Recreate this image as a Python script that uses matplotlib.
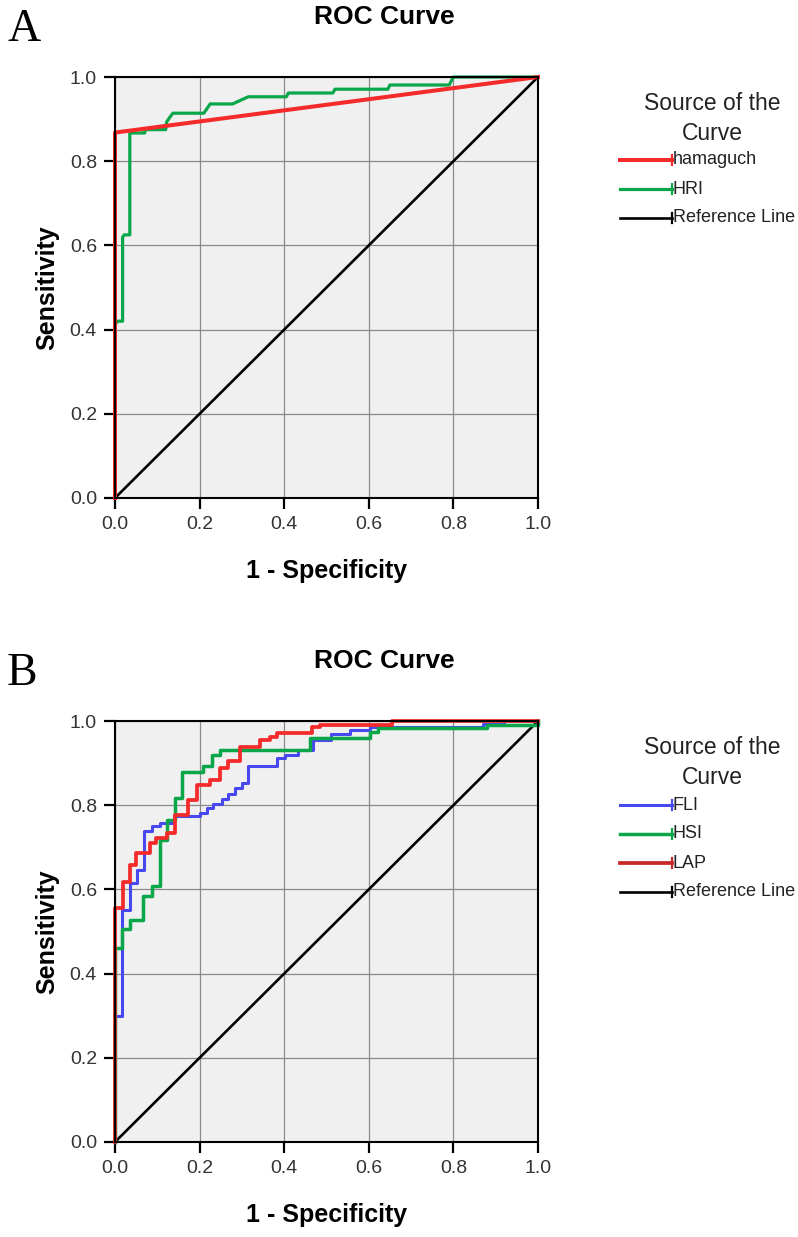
import matplotlib
matplotlib.use('Agg')
import matplotlib.pyplot as plt
from matplotlib.lines import Line2D

plt.rcParams['font.family'] = ['Liberation Sans', 'DejaVu Sans']

W, H = 798, 1237

ticks = [0.0, 0.2, 0.4, 0.6, 0.8, 1.0]
tick_labels = ['0.0', '0.2', '0.4', '0.6', '0.8', '1.0']
ref_x = [0, 1]
ref_y = [0, 1]

# panel A
hama_x = [0, 0, 1]
hama_y = [0, 0.868, 1]
hri_x = [0, 0, 0.005, 0.018, 0.018, 0.022, 0.035, 0.035, 0.07, 0.072, 0.12, 0.122, 0.13,
         0.137, 0.21, 0.225, 0.278, 0.315, 0.405, 0.41, 0.515, 0.52, 0.645, 0.65, 0.79, 0.80, 1.0]
hri_y = [0, 0.41, 0.42, 0.42, 0.62, 0.625, 0.625, 0.867, 0.867, 0.875, 0.875, 0.893, 0.905,
         0.914, 0.914, 0.936, 0.936, 0.953, 0.953, 0.962, 0.962, 0.971, 0.971, 0.981, 0.981, 1.0, 1.0]

# panel B (ROC step points, steps-post)
fli_x = [0, 0, 0.017, 0.035, 0.052, 0.068, 0.087, 0.106, 0.14, 0.201, 0.217, 0.232, 0.252, 0.268,
         0.284, 0.30, 0.315, 0.382, 0.402, 0.433, 0.469, 0.51, 0.556, 0.603, 0.87, 0.92, 1.0]
fli_y = [0, 0.30, 0.552, 0.616, 0.645, 0.738, 0.75, 0.758, 0.775, 0.782, 0.794, 0.803, 0.815, 0.827,
         0.841, 0.853, 0.892, 0.912, 0.919, 0.931, 0.955, 0.968, 0.979, 0.986, 0.993, 1.0, 1.0]
hsi_x = [0, 0, 0.016, 0.035, 0.066, 0.087, 0.106, 0.124, 0.142, 0.158, 0.209, 0.229, 0.248,
         0.461, 0.603, 0.622, 0.879, 0.934, 1.0]
hsi_y = [0, 0.46, 0.505, 0.528, 0.584, 0.608, 0.718, 0.765, 0.818, 0.88, 0.892, 0.92, 0.931,
         0.96, 0.975, 0.983, 0.99, 0.99, 1.0]
lap_x = [0, 0, 0.018, 0.035, 0.05, 0.083, 0.098, 0.124, 0.142, 0.173, 0.193, 0.225, 0.248,
         0.267, 0.295, 0.343, 0.366, 0.382, 0.465, 0.485, 0.654, 1.0]
lap_y = [0, 0.555, 0.617, 0.657, 0.687, 0.711, 0.723, 0.735, 0.777, 0.813, 0.848, 0.86, 0.889,
         0.904, 0.939, 0.955, 0.963, 0.972, 0.986, 0.991, 1.0, 1.0]

RED = '#f52a2a'
GREEN = '#0aa64a'
BLUE = '#4848f0'


def fx(px):
    return px / W


def fy(py):
    return 1 - py / H


fig = plt.figure(figsize=(W / 100, H / 100), dpi=100)


def make_axes(top_px):
    ax = fig.add_axes([fx(115), fy(top_px + 421), fx(538) - fx(115), 421 / H])
    ax.set_facecolor('#f0f0f0')
    ax.set_xlim(0, 1)
    ax.set_ylim(0, 1)
    ax.set_xticks(ticks)
    ax.set_yticks(ticks)
    ax.set_xticklabels(tick_labels)
    ax.set_yticklabels(tick_labels)
    ax.grid(True, color='#8a8a8a', lw=0.9)
    ax.set_axisbelow(True)
    ax.tick_params(direction='out', length=8, width=1.6, labelsize=14,
                   color='black', labelcolor='#333333', pad=5)
    for s in ax.spines.values():
        s.set_linewidth(1.5)
        s.set_color('black')
    ax.set_xlabel('1 - Specificity', fontsize=18, fontweight='bold')
    ax.xaxis.set_label_coords(0.5, -73 / 421)
    ax.xaxis.label.set_va('center')
    ax.set_ylabel('Sensitivity', fontsize=18, fontweight='bold')
    ax.yaxis.set_label_coords(-68 / 423, 0.5)
    ax.yaxis.label.set_va('center')
    fig.text(fx(384), fy(top_px - 60), 'ROC Curve', ha='center', va='center',
             fontsize=19, fontweight='bold')
    return ax


def legend(top_px, names, colors, widths):
    fig.text(fx(712), fy(top_px), 'Source of the', ha='center', va='center',
             fontsize=16.5, color='#222222')
    fig.text(fx(712), fy(top_px + 30), 'Curve', ha='center', va='center',
             fontsize=16.5, color='#222222')
    for i, (n, c, w) in enumerate(zip(names, colors, widths)):
        y = top_px + 57 + 29 * i
        fig.add_artist(Line2D([fx(620), fx(672)], [fy(y), fy(y)], color=c, lw=w))
        fig.add_artist(Line2D([fx(672), fx(672)], [fy(y - 5), fy(y + 5)], color=c, lw=1.6))
        fig.text(fx(673), fy(y), n, ha='left', va='center', fontsize=13, color='#222222')


# ---- A ----
axA = make_axes(77)
axA.plot(ref_x, ref_y, color='black', lw=1.9, clip_on=False)
axA.plot(hri_x, hri_y, color=GREEN, lw=2.3, clip_on=False)
axA.plot(hama_x, hama_y, color=RED, lw=2.9, clip_on=False)
fig.text(fx(7), fy(30), 'A', fontsize=33, family='Liberation Serif', ha='left', va='center')
legend(103, ['hamaguch', 'HRI', 'Reference Line'], [RED, GREEN, 'black'], [2.9, 2.3, 1.9])

# ---- B ----
axB = make_axes(721)
axB.plot(ref_x, ref_y, color='black', lw=1.9, clip_on=False)
axB.plot(fli_x, fli_y, color=BLUE, lw=2.2, drawstyle='steps-post', clip_on=False)
axB.plot(hsi_x, hsi_y, color=GREEN, lw=2.5, drawstyle='steps-post', clip_on=False)
axB.plot(lap_x, lap_y, color=RED, lw=2.7, drawstyle='steps-post', clip_on=False)
fig.text(fx(7), fy(674), 'B', fontsize=33, family='Liberation Serif', ha='left', va='center')
legend(748, ['FLI', 'HSI', 'LAP', 'Reference Line'], [BLUE, GREEN, '#c82828', 'black'],
       [2.2, 2.5, 2.7, 1.9])

fig.savefig('out.png', dpi=100)
